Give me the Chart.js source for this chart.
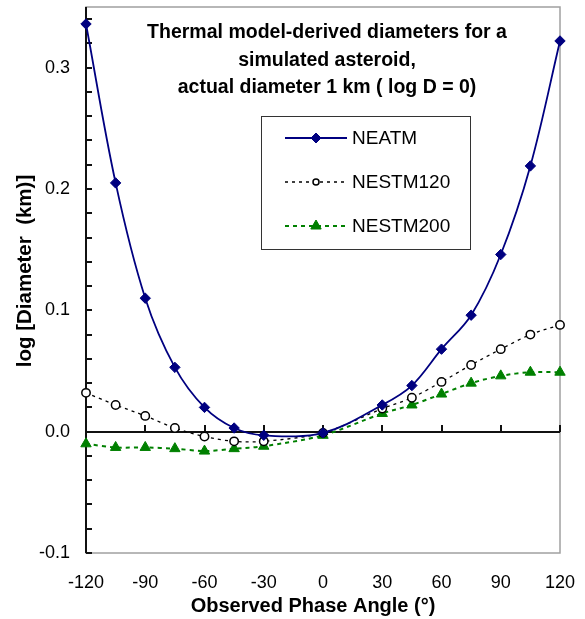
<!DOCTYPE html>
<html><head><meta charset="utf-8">
<script src="https://cdn.jsdelivr.net/npm/chart.js@4/dist/chart.umd.min.js"></script>
<style>html,body{margin:0;padding:0;background:#fff}#wrap{width:585px;height:619px}</style>
</head><body><div id="wrap"><canvas id="c" width="585" height="619"></canvas></div>
<script>
const angles   = [-120, -105, -90, -75, -60, -45, -30, 0, 30, 45, 60, 75, 90, 105, 120];
const neatm    = [0.336, 0.205, 0.110, 0.053, 0.020, 0.003, -0.003, -0.001, 0.022, 0.038, 0.068, 0.096, 0.146, 0.219, 0.322];
const nestm120 = [0.032, 0.022, 0.013, 0.003, -0.004, -0.008, -0.008, -0.001, 0.019, 0.028, 0.041, 0.055, 0.068, 0.080, 0.088];
const nestm200 = [-0.010, -0.013, -0.013, -0.014, -0.016, -0.014, -0.012, -0.003, 0.015, 0.022, 0.031, 0.040, 0.046, 0.049, 0.049];
const seriesNames = ['NEATM', 'NESTM120', 'NESTM200'];
const xTickValues = [-120, -90, -60, -30, 0, 30, 60, 90, 120];
const yTickValues = [-0.1, 0.0, 0.1, 0.2, 0.3];
const yMinorStep = 0.02;
const titleLines = ['Thermal model-derived diameters for a', 'simulated asteroid,', 'actual diameter 1 km ( log D = 0)'];
const xTitle = 'Observed Phase Angle (°)';
const yTitle = 'log [Diameter  (km)]';

const FONT = '"Liberation Sans", Arial, Helvetica, sans-serif';
function pts(vals) { return angles.map((a, i) => ({ x: a, y: vals[i] })); }
function zeroPad(s) { s.paddingLeft = 0; s.paddingRight = 0; s.paddingTop = 0; s.paddingBottom = 0; }

const decor = {
  id: 'decor',
  beforeDraw(chart) {
    const ctx = chart.ctx; ctx.save(); ctx.fillStyle = '#fff';
    ctx.fillRect(0, 0, chart.width, chart.height); ctx.restore();
  },
  beforeDatasetsDraw(chart) {
    const { ctx, chartArea: a, scales: { x, y } } = chart;
    ctx.save();
    ctx.strokeStyle = '#a0a0a0'; ctx.lineWidth = 1.5;
    ctx.strokeRect(a.left, a.top, a.right - a.left, a.bottom - a.top);
    ctx.strokeStyle = '#111'; ctx.lineWidth = 2;
    ctx.beginPath(); ctx.moveTo(a.left, a.top); ctx.lineTo(a.left, a.bottom); ctx.stroke();
    const n = Math.round((y.max - y.min) / yMinorStep);
    for (let i = 0; i <= n; i++) {
      const v = y.min + i * yMinorStep;
      if (v > y.max + 1e-9) break;
      const py = Math.round(y.getPixelForValue(v));
      ctx.beginPath(); ctx.moveTo(a.left, py); ctx.lineTo(a.left + 6, py); ctx.stroke();
    }
    const y0 = Math.round(y.getPixelForValue(0));
    ctx.beginPath(); ctx.moveTo(a.left, y0); ctx.lineTo(a.right, y0); ctx.stroke();
    xTickValues.forEach(v => {
      const px = Math.round(x.getPixelForValue(v));
      ctx.beginPath(); ctx.moveTo(px, y0); ctx.lineTo(px, y0 - 7); ctx.stroke();
    });
    ctx.restore();
  },
  afterDatasetsDraw(chart) {
    const { ctx, chartArea: a } = chart;
    ctx.save();
    ctx.fillStyle = '#000';
    ctx.textAlign = 'center'; ctx.textBaseline = 'middle';
    // chart title
    ctx.font = 'bold 19.5px ' + FONT;
    const cx = (a.left + a.right) / 2 + 4;
    titleLines.forEach((t, i) => ctx.fillText(t, cx, 33 + i * 27.5));
    // axis titles
    ctx.font = 'bold 20px ' + FONT;
    ctx.fillText(xTitle, (a.left + a.right) / 2 - 10, 606);
    ctx.save();
    ctx.translate(25, (a.top + a.bottom) / 2 - 9);
    ctx.rotate(-Math.PI / 2);
    ctx.font = 'bold 20.5px ' + FONT;
    ctx.fillText(yTitle, 0, 0);
    ctx.restore();
    // legend
    const bx = 261, by = 116, bw = 209, bh = 133;
    ctx.fillStyle = '#fff'; ctx.fillRect(bx, by, bw, bh);
    ctx.strokeStyle = '#333'; ctx.lineWidth = 1;
    ctx.strokeRect(bx + 0.5, by + 0.5, bw, bh);
    chart.data.datasets.forEach((ds, i) => {
      const ly = 138 + i * 44;
      ctx.save();
      ctx.strokeStyle = ds.borderColor; ctx.lineWidth = ds.borderWidth;
      ctx.setLineDash(ds.borderDash || []);
      ctx.beginPath(); ctx.moveTo(285, ly); ctx.lineTo(347, ly); ctx.stroke();
      ctx.setLineDash([]);
      ctx.fillStyle = ds.pointBackgroundColor; ctx.strokeStyle = ds.pointBorderColor;
      ctx.lineWidth = ds.pointBorderWidth;
      Chart.helpers.drawPoint(ctx, { pointStyle: ds.pointStyle, radius: ds.legendRadius, rotation: 0, borderWidth: ds.pointBorderWidth }, 316, ly);
      ctx.restore();
      ctx.fillStyle = '#000'; ctx.font = '19px ' + FONT;
      ctx.textAlign = 'left'; ctx.textBaseline = 'middle';
      ctx.fillText(ds.label, 352, ly + 1);
    });
    ctx.restore();
  }
};

new Chart(document.getElementById('c'), {
  type: 'line',
  data: {
    datasets: [
      { label: seriesNames[0], data: pts(neatm), borderColor: '#000080', borderWidth: 1.8,
        pointStyle: 'rectRot', pointRadius: 5.2, legendRadius: 5, pointBackgroundColor: '#000080',
        pointBorderColor: '#000080', pointBorderWidth: 1, tension: 0.35, clip: false },
      { label: seriesNames[1], data: pts(nestm120), borderColor: '#000', borderWidth: 1.3, borderDash: [3, 4],
        pointStyle: 'circle', pointRadius: 4.2, legendRadius: 3, pointBackgroundColor: '#fff',
        pointBorderColor: '#000', pointBorderWidth: 1.5, tension: 0.3, clip: false },
      { label: seriesNames[2], data: pts(nestm200), borderColor: '#008000', borderWidth: 2, borderDash: [4, 4],
        pointStyle: 'triangle', pointRadius: 6, legendRadius: 6, pointBackgroundColor: '#008000',
        pointBorderColor: '#008000', pointBorderWidth: 1, tension: 0.3, clip: false }
    ]
  },
  options: {
    responsive: false, animation: false, devicePixelRatio: 1,
    layout: { padding: { top: 4, right: 25, left: 0, bottom: 0 } },
    plugins: { legend: { display: false }, tooltip: { enabled: false } },
    scales: {
      x: {
        type: 'linear', min: -120, max: 120, position: 'bottom',
        afterBuildTicks: s => { s.ticks = xTickValues.map(v => ({ value: v })); },
        afterFit: s => { s.height = 66; zeroPad(s); },
        grid: { display: false, drawTicks: false }, border: { display: false },
        ticks: { color: '#000', font: { family: FONT, size: 18 }, padding: 19, maxRotation: 0, callback: v => String(v) },
        title: { display: false }
      },
      y: {
        type: 'linear', min: -0.1, max: 0.35, position: 'left',
        afterBuildTicks: s => { s.ticks = yTickValues.map(v => ({ value: v })); },
        afterFit: s => { s.width = 86; zeroPad(s); },
        grid: { display: false, drawTicks: false }, border: { display: false },
        ticks: { color: '#000', font: { family: FONT, size: 18 }, padding: 16, callback: v => v.toFixed(1) },
        title: { display: false }
      }
    }
  },
  plugins: [decor]
});
</script></body></html>
